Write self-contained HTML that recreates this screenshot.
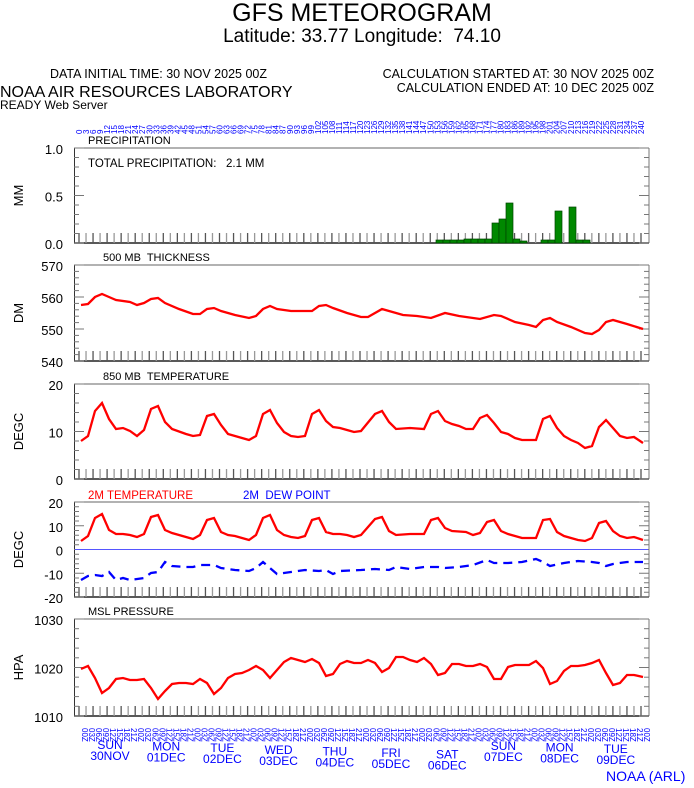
<!DOCTYPE html>
<html><head><meta charset="utf-8"><style>
body{margin:0;background:#fff;width:694px;height:788px;overflow:hidden}
svg{display:block;font-family:"Liberation Sans",sans-serif}
</style></head><body>
<svg id="s" width="694" height="788" xmlns="http://www.w3.org/2000/svg">
<text x="362" y="21" font-size="25" text-anchor="middle">GFS METEOROGRAM</text>
<text x="362" y="42" font-size="19" text-anchor="middle">Latitude: 33.77 Longitude: &#160;74.10</text>
<text x="50" y="78" font-size="12.5">DATA INITIAL TIME: 30 NOV 2025 00Z</text>
<text x="654" y="78" font-size="12.5" text-anchor="end">CALCULATION STARTED AT: 30 NOV 2025 00Z</text>
<text x="654" y="92" font-size="12.5" text-anchor="end">CALCULATION ENDED AT: 10 DEC 2025 00Z</text>
<text x="0" y="97" font-size="16">NOAA AIR RESOURCES LABORATORY</text>
<text x="0" y="109" font-size="12">READY Web Server</text>
<text x="606" y="781" font-size="14" fill="#00f">NOAA (ARL)</text>
</svg>
<script>
const s=document.getElementById('s');let h='';
const X0=81,DX=7.025;
const panels=[[148,243,['1.0','0.5','0.0'],'MM','PRECIPITATION'],[265,361,['570','560','550','540'],'DM','500 MB  THICKNESS'],[384,479,['20','10','0'],'DEGC','850 MB  TEMPERATURE'],[502,597,['20','10','0','-10','-20'],'DEGC',''],[619,716,['1030','1020','1010'],'HPA','MSL PRESSURE']];
panels.forEach(p=>{const[t,b,labs,u,title]=p;
h+=`<line x1="74" y1="${t}" x2="649" y2="${t}" stroke="#666"/>`;
h+=`<line x1="74.5" y1="${t}" x2="74.5" y2="${b}" stroke="#333"/><line x1="649" y1="${t}" x2="649" y2="${b}" stroke="#bbb" stroke-width="2"/>`;
h+=`<line x1="74" y1="${b}" x2="649" y2="${b}" stroke="#222" stroke-width="1.5"/>`;
for(let i=0;i<=81;i++){const x=X0+i*DX-2;if(x>648)break;h+=`<line x1="${x}" y1="${b-10}" x2="${x}" y2="${b}" stroke="${i%2?'#999':'#555'}" stroke-width="1.3"/>`;}
const n=labs.length-1;for(let i=0;i<=n*5;i++){const y=t+(b-t)*i/(n*5);const big=i%5==0;h+=`<line x1="74" y1="${y}" x2="${big?84:79}" y2="${y}" stroke="#777"/><line x1="${big?639:644}" y1="${y}" x2="649" y2="${y}" stroke="#777"/>`;}
labs.forEach((l,i)=>{const y=t+(b-t)*i/n;h+=`<text x="63" y="${y+6}" font-size="13" text-anchor="end">${l}</text>`;});
h+=`<text transform="translate(23,${(t+b)/2}) rotate(-90)" font-size="13" text-anchor="middle">${u}</text>`;
if(title)h+=`<text x="${title=='PRECIPITATION'?88:(title=='MSL PRESSURE'?88:103)}" y="${t-4}" font-size="11" xml:space="preserve">${title}</text>`;});
h+=`<line x1="75" y1="549.5" x2="648" y2="549.5" stroke="#55f"/>`;
h+=`<text x="88" y="167" font-size="11.5" xml:space="preserve">TOTAL PRECIPITATION:   2.1 MM</text>`;
h+=`<text x="88" y="499" font-size="11.5" fill="#f00">2M TEMPERATURE</text><text x="243" y="499" font-size="11.5" fill="#00f" xml:space="preserve">2M  DEW POINT</text>`;
const bars={436:3,443:3,450:3,457:3,464:4,471:4,478:4,485:4,492:20,499:24,506:40,513:4,520:2,541:3,548:3,555:32,569:36,576:3,583:3};
for(const k in bars){h+=`<rect x="${k}" y="${243-bars[k]}" width="7" height="${bars[k]}" fill="#080" stroke="#040" stroke-width="0.7"/>`;}
const pl=(pts,c,extra='')=>`<polyline points="${pts}" fill="none" stroke="${c}" stroke-width="2.3" ${extra}/>`;
h+=pl("81,305 88,304 95,297 102,294 109,297 116,300 130,302 137,305 144,303 151,299 158,298 165,303 179,309 193,314 200,314 207,309 214,308 221,311 235,315 249,318 256,316 263,309 270,306 277,309 291,311 305,311 312,311 319,306 326,305 333,308 347,313 361,317 368,317 382,309 389,311 403,315 417,316 431,318 445,313 459,316 480,319 494,315 501,316 515,322 529,325 536,327 543,320 550,318 557,322 571,327 585,333 592,334 599,330 606,322 613,320 627,324 643,329","#f00");
h+=pl("81,441 88,436 95,411 102,403 109,419 116,429 123,428 130,431 137,436 144,430 151,409 158,406 165,422 172,429 186,434 193,436 200,435 207,416 214,414 221,425 228,434 235,436 242,438 249,440 256,436 263,414 270,410 277,423 284,432 291,436 298,437 305,436 312,414 319,410 326,421 333,427 340,428 347,430 354,432 361,431 375,414 382,411 389,422 396,429 410,428 424,429 431,414 438,411 445,421 452,424 459,426 466,429 473,429 480,418 487,415 494,423 501,432 508,434 515,438 522,440 536,440 543,419 550,416 557,428 564,436 571,440 578,443 585,448 592,446 599,427 606,420 613,428 620,436 627,438 634,437 643,443","#f00");
h+=pl("81,541 88,536 95,518 102,514 109,530 116,534 123,534 130,535 137,537 144,534 151,517 158,515 165,530 172,533 186,537 193,539 200,535 207,520 214,518 221,532 228,535 235,536 242,538 249,540 256,535 263,518 270,515 277,530 284,535 291,537 298,538 305,536 312,520 319,518 326,532 333,534 340,534 347,535 354,537 361,535 375,519 382,517 389,531 396,535 410,534 424,534 431,520 438,518 445,528 452,531 466,532 473,535 480,533 487,522 494,520 501,531 508,534 522,538 536,538 543,520 550,519 557,532 564,536 578,540 585,541 592,538 599,523 606,521 613,531 620,536 627,538 634,537 643,540","#f00");
h+=pl("81,580 88,576 95,575 102,576 109,572 116,580 123,578 130,580 144,578 151,573 158,572 165,562 172,566 186,567 193,567 200,565 214,565 221,568 235,570 249,571 256,568 263,562 277,574 291,572 305,570 319,571 326,570 333,574 340,571 361,570 375,569 389,570 396,567 410,569 424,567 438,567 445,568 459,567 473,565 487,560 494,563 508,563 522,562 536,559 543,562 550,566 564,563 578,561 592,562 599,563 606,566 613,564 627,562 643,562","#00f",'stroke-dasharray="9,6"');
h+=pl("81,669 88,666 95,678 102,693 109,688 116,679 123,678 130,680 137,680 144,679 151,688 158,699 165,691 172,684 179,683 186,683 193,684 200,679 207,683 214,694 221,688 228,678 235,674 242,673 249,670 256,666 263,670 270,678 277,670 284,662 291,658 298,660 305,662 312,659 319,663 326,676 333,674 340,664 347,661 354,663 361,663 368,660 375,663 382,672 389,668 396,657 403,657 410,660 417,662 424,658 431,664 438,675 445,673 452,664 459,664 466,666 473,666 480,664 487,667 494,679 501,679 508,667 515,665 522,665 529,665 536,661 543,668 550,684 557,681 564,671 571,666 578,666 585,665 592,663 599,660 606,673 613,685 620,683 627,675 634,675 643,677","#f00");
for(let i=0;i<=80;i++){const x=X0+i*DX+1;h+=`<text transform="translate(${x},${134}) rotate(-90)" font-size="8" fill="#00f">${i*3}</text>`;}
const hrs=['00','03','06','09','12','15','18','21'];
for(let i=0;i<=80;i++){const x=X0+i*DX+1;h+=`<text transform="translate(${x},${728}) rotate(90)" font-size="8" fill="#00f">${hrs[i%8]}Z</text>`;}
const days=[['SUN','30NOV'],['MON','01DEC'],['TUE','02DEC'],['WED','03DEC'],['THU','04DEC'],['FRI','05DEC'],['SAT','06DEC'],['SUN','07DEC'],['MON','08DEC'],['TUE','09DEC']];
days.forEach((d,i)=>{const x=110+i*56.2,dy=(i<7?i*1.6:(i-7)*1.6+1);h+=`<text x="${x}" y="${749+dy}" font-size="12" fill="#00f" text-anchor="middle">${d[0]}</text><text x="${x}" y="${760+dy}" font-size="12" fill="#00f" text-anchor="middle">${d[1]}</text>`;});
s.insertAdjacentHTML('beforeend',h);
</script>
</body></html>
